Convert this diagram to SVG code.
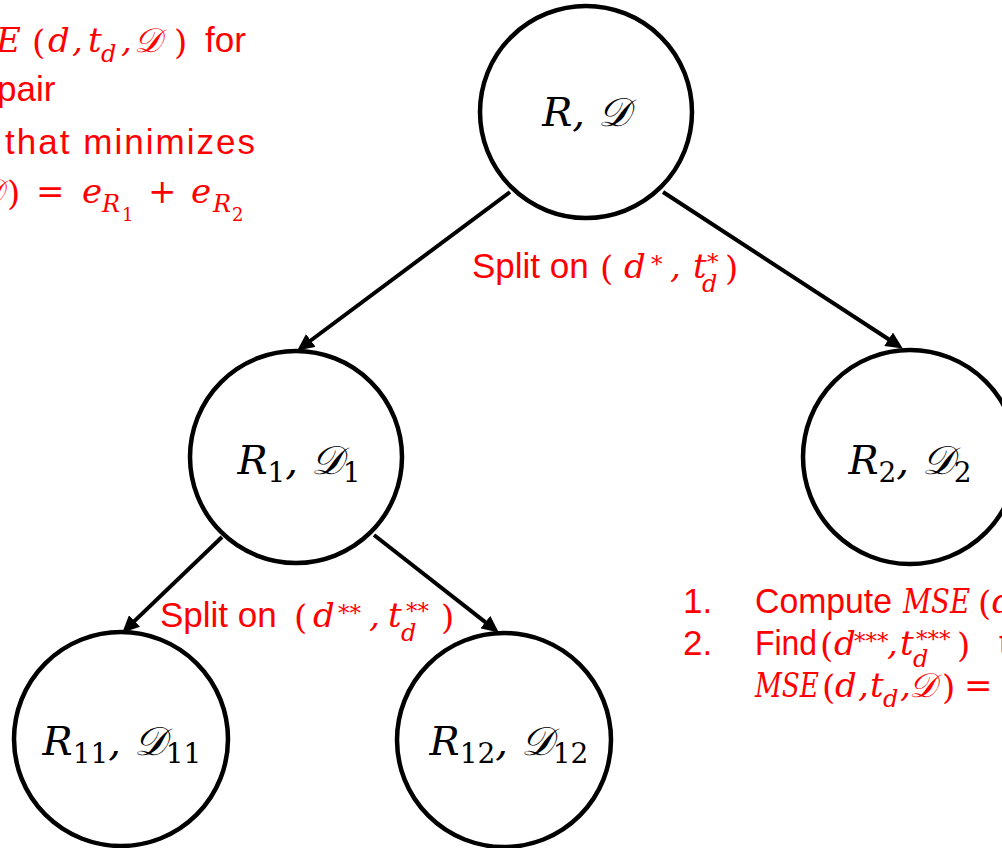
<svg xmlns="http://www.w3.org/2000/svg" width="1002" height="848" viewBox="0 0 1002 848">
<defs>
<style>
.node { fill:#FFFFFF; stroke:#000000; stroke-width:4.5; }
.lbl { font-family:"DejaVu Serif", "Liberation Serif", serif; font-style:italic; font-size:40px; fill:#000000; }
.sub { font-style:normal; font-size:28px; }
.r { font-family:"Liberation Sans", Arial, sans-serif; font-size:35px; fill:#FF0000; }
.m { font-family:"DejaVu Serif", "Liberation Serif", serif; font-style:italic; font-size:34px; fill:#FF0000; }
.u { font-style:normal; }
.s { font-size:24px; }
.a { font-size:23px; font-style:normal; }
.ss { font-size:18px; font-style:normal; }
.edge { stroke:#000000; stroke-width:4; fill:none; marker-end:url(#arr); }
</style>
<marker id="arr" markerUnits="userSpaceOnUse" markerWidth="18" markerHeight="16" refX="6" refY="8" orient="auto">
<path d="M0,0 L17,8 L0,16 z" fill="#000000"/>
</marker>
</defs>
<rect x="0" y="0" width="1002" height="848" fill="#FFFFFF"/>

<g id="connectors">
<line class="edge" x1="510" y1="192" x2="306" y2="344"/>
<line class="edge" x1="663" y1="192" x2="893.6" y2="342.5"/>
<line class="edge" x1="222" y1="537" x2="130.2" y2="625.1"/>
<line class="edge" x1="374" y1="535" x2="490.1" y2="625.8"/>
</g>

<g id="node-root">
<circle class="node" cx="586" cy="112" r="106"/>
<text class="lbl" x="586" y="126" text-anchor="middle">R, 𝒟</text>
</g>
<g id="node-r1">
<circle class="node" cx="296" cy="457" r="106"/>
<text class="lbl" x="299" y="474" text-anchor="middle">R<tspan class="sub" dy="8">1</tspan><tspan dy="-8">, 𝒟</tspan><tspan class="sub" dy="8">1</tspan></text>
</g>
<g id="node-r2">
<circle class="node" cx="910" cy="457" r="107"/>
<text class="lbl" x="910" y="474" text-anchor="middle">R<tspan class="sub" dy="8">2</tspan><tspan dy="-8">, 𝒟</tspan><tspan class="sub" dy="8">2</tspan></text>
</g>
<g id="node-r11">
<circle class="node" cx="121" cy="739" r="107"/>
<text class="lbl" x="122" y="755" text-anchor="middle">R<tspan class="sub" dy="8">11</tspan><tspan dy="-8">, 𝒟</tspan><tspan class="sub" dy="8">11</tspan></text>
</g>
<g id="node-r12">
<circle class="node" cx="504" cy="740" r="107"/>
<text class="lbl" x="509" y="755" text-anchor="middle">R<tspan class="sub" dy="8">12</tspan><tspan dy="-8">, 𝒟</tspan><tspan class="sub" dy="8">12</tspan></text>
</g>

<g id="label-split1">
<text class="r" x="472" y="278">Split on</text>
<text class="m"><tspan class="u" x="600" y="280">(</tspan><tspan x="624" y="278">d</tspan><tspan class="a" x="651" y="272">*</tspan><tspan x="670" y="278">,</tspan><tspan x="693" y="278">t</tspan><tspan class="s" x="702" y="292">d</tspan><tspan class="a" x="707" y="270">*</tspan><tspan class="u" x="725" y="280">)</tspan></text>
</g>

<g id="label-split2">
<text class="r" x="160" y="627">Split on</text>
<text class="m"><tspan class="u" x="294" y="629">(</tspan><tspan x="313" y="627">d</tspan><tspan class="a" x="338" y="621">**</tspan><tspan x="369" y="627">,</tspan><tspan x="388" y="627">t</tspan><tspan class="s" x="401" y="641">d</tspan><tspan class="a" x="406" y="619">**</tspan><tspan class="u" x="441" y="629">)</tspan></text>
</g>

<g id="note-top">
<text class="m"><tspan x="-4" y="52">E</tspan><tspan class="u" x="32" y="54">(</tspan><tspan x="48" y="52">d</tspan><tspan x="72" y="52">,</tspan><tspan x="88" y="52">t</tspan><tspan class="s" x="101" y="62">d</tspan><tspan x="121" y="52">,</tspan><tspan x="134" y="52">𝒟</tspan><tspan class="u" x="174" y="54">)</tspan></text>
<text class="r" x="205" y="52">for</text>
<text class="r" x="-3" y="101">pair</text>
<text class="r" x="5" y="154" textLength="250" lengthAdjust="spacing">that minimizes</text>
<text class="m"><tspan x="-24" y="203">𝒟</tspan><tspan class="u" x="7" y="205">)</tspan><tspan class="u" x="36" y="203">=</tspan><tspan x="82" y="203">e</tspan><tspan class="s" x="102" y="212">R</tspan><tspan class="ss" x="122" y="221">1</tspan><tspan class="u" x="148" y="203">+</tspan><tspan x="191" y="203">e</tspan><tspan class="s" x="213" y="212">R</tspan><tspan class="ss" x="232" y="221">2</tspan></text>
</g>

<g id="note-bottom">
<text class="r" x="683" y="613">1.</text>
<text class="r" x="755" y="613" textLength="137" lengthAdjust="spacingAndGlyphs">Compute</text>
<text class="m"><tspan x="903" y="613" textLength="67" lengthAdjust="spacingAndGlyphs">MSE</tspan><tspan class="u" x="978" y="615">(</tspan><tspan x="992" y="613">d</tspan></text>
<text class="r" x="683" y="655">2.</text>
<text class="r" x="755" y="655" textLength="62" lengthAdjust="spacingAndGlyphs">Find</text>
<text class="m"><tspan class="u" x="820" y="657">(</tspan><tspan x="834" y="655">d</tspan><tspan class="a" x="854" y="649">***</tspan><tspan x="887" y="655">,</tspan><tspan x="900" y="655">t</tspan><tspan class="s" x="913" y="667">d</tspan><tspan class="a" x="916" y="647">***</tspan><tspan class="u" x="957" y="657">)</tspan></text>
<text class="r" x="999" y="655">t</text>
<text class="m"><tspan x="755" y="697" textLength="64" lengthAdjust="spacingAndGlyphs">MSE</tspan><tspan class="u" x="822" y="699">(</tspan><tspan x="835" y="697">d</tspan><tspan x="858" y="697">,</tspan><tspan x="870" y="697">t</tspan><tspan class="s" x="883" y="707">d</tspan><tspan x="900" y="697">,</tspan><tspan x="909" y="697">𝒟</tspan><tspan class="u" x="942" y="699">)</tspan><tspan class="u" x="964" y="697">=</tspan></text>
</g>
</svg>
